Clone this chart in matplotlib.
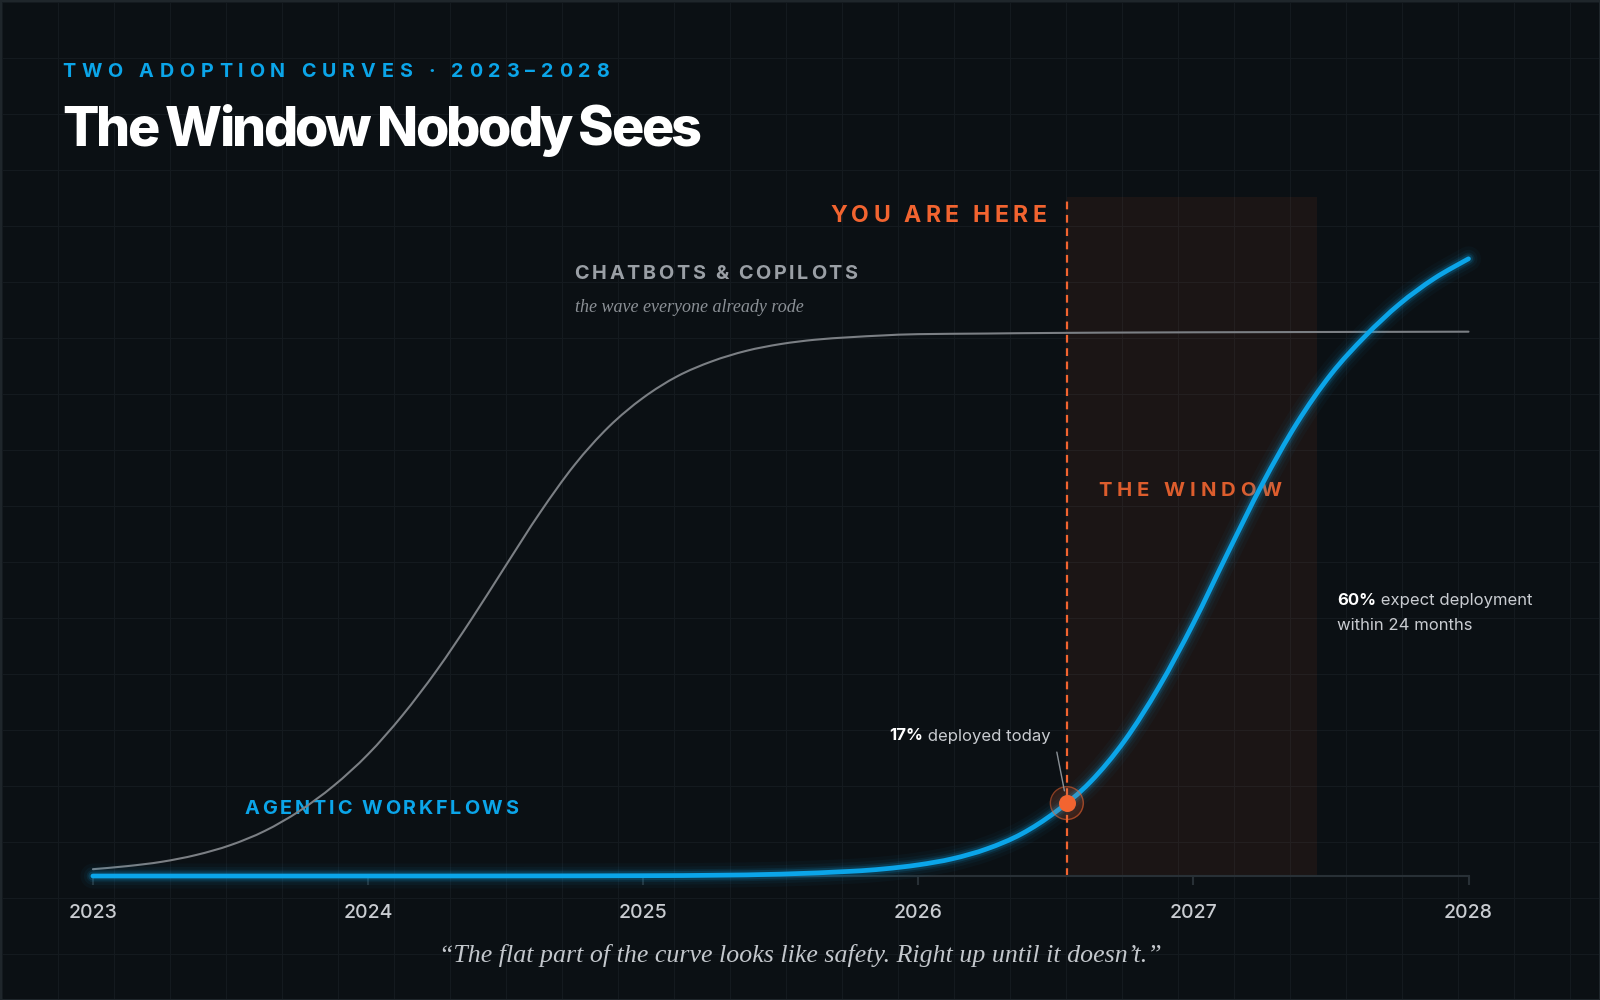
import matplotlib
matplotlib.use("Agg")
import matplotlib.pyplot as plt
from matplotlib.path import Path
from matplotlib.patches import PathPatch, Rectangle
from matplotlib.font_manager import FontProperties

################# colours #########################
BG = "#0b1014"
GRID = "#141a1f"
BORDER = "#1f262b"
BLUE = "#0ba5e9"
ORANGE = "#f26430"
GRAY_LINE = "#7b7f84"
AXIS = "#283036"
TXT = "#c9ccd1"

################# data ################################################
years = [2023, 2024, 2025, 2026, 2027, 2028]

# agentic workflows, relative adoption index
t_blue = [2023.0, 2023.5, 2024.0, 2024.5, 2025.0, 2025.25, 2025.5, 2025.75,
          2025.875, 2026.0, 2026.125, 2026.25, 2026.375, 2026.5, 2026.625,
          2026.75, 2026.875, 2027.0, 2027.125, 2027.25, 2027.375, 2027.5,
          2027.625, 2027.75, 2027.875, 2028.0]
v_blue = [0.0, 0.0, 0.0, 0.01, 0.05, 0.12, 0.3, 0.75,
          1.15, 1.8, 2.8, 4.4, 6.8, 10.4, 15.2,
          21.9, 30.6, 40.9, 52.3, 63.4, 73.2, 81.2,
          87.4, 92.6, 96.7, 99.9]

# chatbots & copilots
t_gray = [2023.0, 2023.125, 2023.25, 2023.375, 2023.5, 2023.625, 2023.75, 2023.875,
          2024.0, 2024.125, 2024.25, 2024.375, 2024.5, 2024.625, 2024.75, 2024.875,
          2025.0, 2025.125, 2025.25, 2025.375, 2025.5, 2025.625, 2025.75, 2025.875,
          2026.0, 2026.25, 2026.5, 2027.0, 2028.0]
v_gray = [1.1, 1.6, 2.3, 3.4, 5.0, 7.3, 10.5, 14.6,
          19.7, 26.0, 33.3, 41.5, 50.2, 58.8, 66.5, 72.7,
          77.4, 80.9, 83.3, 85.0, 86.1, 86.8, 87.2, 87.5,
          87.7, 87.8, 87.9, 88.0, 88.1]

today_t = 2026.54
today_v = 11.8
window = (2026.54, 2027.45)

fig = plt.figure(figsize=(16, 10), dpi=100)
fig.patch.set_facecolor(BG)

# background grid in pixel coordinates
bg = fig.add_axes([0, 0, 1, 1])
bg.set_xlim(0, 1600)
bg.set_ylim(1000, 0)
bg.axis("off")
for gx in range(1, 1600, 56):
    bg.axvline(gx + 0.5, color=GRID, lw=0.72, zorder=0)
for gy in range(1, 1000, 56):
    bg.axhline(gy + 0.5, color=GRID, lw=0.72, zorder=0)
bg.add_patch(Rectangle((0.5, 0.5), 1599, 999, fill=False, ec=BORDER, lw=1.5))

# main axes
ax = fig.add_axes([92.9 / 1600, 124 / 1000, 1375.6 / 1600, 679 / 1000])
ax.set_facecolor("none")
ax.set_xlim(2023, 2028)
ax.set_ylim(0, 109.9)
for s in ["top", "left", "right"]:
    ax.spines[s].set_visible(False)
ax.spines["bottom"].set_color(AXIS)
ax.spines["bottom"].set_linewidth(1.5)
ax.spines["bottom"].set_bounds(2023, 2028)
ax.set_yticks([])
ax.set_xticks(years)
ax.set_xticklabels([str(y) for y in years])
ax.tick_params(axis="x", direction="out", length=6.5, width=1.5, color=AXIS,
               labelcolor=TXT, labelsize=14, pad=14)
for lab in ax.get_xticklabels():
    lab.set_fontfamily(["Inter", "DejaVu Sans"])
    lab.set_fontweight("medium")

# the window
ax.axvspan(window[0], window[1], ymin=0, ymax=1, color=ORANGE, alpha=0.07, lw=0, zorder=1)
ax.axvline(today_t, color=ORANGE, lw=1.6, linestyle=(0, (3.5, 2.5)), zorder=2)


def smooth_path(xs, ys):
    # catmull-rom through the read points, drawn as cubic beziers
    pts = list(zip(xs, ys))
    n = len(pts)
    verts = [pts[0]]
    codes = [Path.MOVETO]
    for i in range(n - 1):
        p0 = pts[i - 1] if i > 0 else pts[i]
        p1 = pts[i]
        p2 = pts[i + 1]
        p3 = pts[i + 2] if i + 2 < n else pts[i + 1]
        c1 = (p1[0] + (p2[0] - p0[0]) / 6, p1[1] + (p2[1] - p0[1]) / 6)
        c2 = (p2[0] - (p3[0] - p1[0]) / 6, p2[1] - (p3[1] - p1[1]) / 6)
        verts += [c1, c2, p2]
        codes += [Path.CURVE4] * 3
    return Path(verts, codes)


gray_path = smooth_path(t_gray, v_gray)
ax.add_patch(PathPatch(gray_path, fill=False, ec=GRAY_LINE, lw=1.5, zorder=3,
                       clip_on=False, capstyle="round"))

blue_path = smooth_path(t_blue, v_blue)
for w, a in [(18, 0.035), (13, 0.05), (9, 0.09), (6.5, 0.16)]:
    ax.add_patch(PathPatch(blue_path, fill=False, ec=BLUE, lw=w, alpha=a, zorder=4,
                           clip_on=False, capstyle="round", joinstyle="round"))
ax.add_patch(PathPatch(blue_path, fill=False, ec=BLUE, lw=3.4, zorder=5,
                       clip_on=False, capstyle="round", joinstyle="round"))

# today marker
ax.scatter([today_t], [today_v], s=560, facecolor=ORANGE, alpha=0.16, lw=0, zorder=6)
ax.scatter([today_t], [today_v], s=560, facecolor="none", edgecolor=ORANGE, alpha=0.55,
           lw=1.0, zorder=6)
ax.scatter([today_t], [today_v], s=150, color=ORANGE, lw=0, zorder=7)
ax.annotate("", xy=(today_t, today_v), xytext=(-10, 51), textcoords="offset pixels",
            arrowprops=dict(arrowstyle="-", color="#8a9096", lw=1.0, shrinkA=0, shrinkB=9),
            zorder=6)

################# texts #########################
renderer = fig.canvas.get_renderer()


def fp(size, weight="normal", family=("Inter", "DejaVu Sans"), style="normal"):
    return FontProperties(family=list(family), weight=weight, size=size, style=style)


def char_w(ch, prop):
    w1 = renderer.get_text_width_height_descent("|" + ch + "|", prop, ismath=False)[0]
    w0 = renderer.get_text_width_height_descent("||", prop, ismath=False)[0]
    return w1 - w0


def spaced(x, y, s, prop, color, width, ha="left"):
    ws = [char_w(c, prop) for c in s]
    track = (width - sum(ws)) / (len(s) - 1)
    total = sum(ws) + track * (len(s) - 1)
    if ha == "right":
        x -= total
    elif ha == "center":
        x -= total / 2
    for c, w in zip(s, ws):
        bg.text(x, y, c, fontproperties=prop, color=color, va="baseline", ha="left")
        x += w + track


def runs(x, y, parts, ha="left"):
    ws = [renderer.get_text_width_height_descent(t, p, ismath=False)[0] for t, p, c in parts]
    if ha == "right":
        x -= sum(ws)
    for (t, p, c), w in zip(parts, ws):
        bg.text(x, y, t, fontproperties=p, color=c, va="baseline", ha="left")
        x += w


SERIF = ("Liberation Serif", "DejaVu Serif")

spaced(62, 77, "TWO ADOPTION CURVES · 2023–2028", fp(14.2, "bold"), BLUE, 547)
spaced(62, 146, "The Window Nobody Sees", fp(38.8, "heavy"), "#ffffff", 639)

spaced(1046, 222.5, "YOU ARE HERE", fp(16.6, "bold"), ORANGE, 216, ha="right")
spaced(574.5, 279, "CHATBOTS & COPILOTS", fp(14.3, "bold"), "#9a9fa5", 283)
bg.text(575, 312.5, "the wave everyone already rode",
        fontproperties=fp(13.0, family=SERIF, style="italic"),
        color="#8b9096", va="baseline", ha="left")
spaced(1098, 496, "THE WINDOW", fp(14.6, "bold"), "#dc5d2d", 184)
spaced(245, 814.5, "AGENTIC WORKFLOWS", fp(14.3, "bold"), BLUE, 273)

runs(1051, 740.5, [("17%", fp(12.0, "bold"), "#ffffff"),
                   (" deployed today", fp(12.0), TXT)], ha="right")
runs(1337, 605, [("60%", fp(12.0, "bold"), "#ffffff"),
                 (" expect deployment", fp(12.0), TXT)])
runs(1337, 630, [("within 24 months", fp(12.0), TXT)])

bg.text(800, 962, "\u201cThe flat part of the curve looks like safety. Right up until it doesn\u2019t.\u201d",
        fontproperties=fp(18.6, family=SERIF, style="italic"),
        color="#c3c7cc", va="baseline", ha="center")

fig.savefig("out.png", dpi=100, facecolor=BG)
